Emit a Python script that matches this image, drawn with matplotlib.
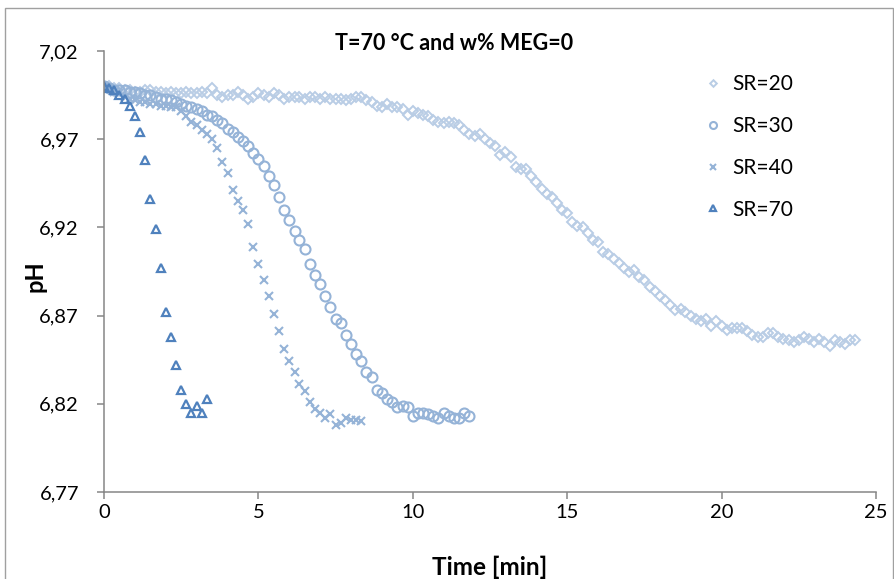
import matplotlib
matplotlib.use('agg')
from matplotlib import pyplot as plt
from matplotlib.patches import Rectangle

plt.rcParams['font.family'] = ['Lato', 'DejaVu Sans']

# sample times in minutes (10 s logging interval), shared by every series
time_min = [
    0, 0.17, 0.33, 0.5, 0.67, 0.83,
    1, 1.17, 1.33, 1.5, 1.67, 1.83,
    2, 2.17, 2.33, 2.5, 2.67, 2.83,
    3, 3.17, 3.33, 3.5, 3.67, 3.83,
    4, 4.17, 4.33, 4.5, 4.67, 4.83,
    5, 5.17, 5.33, 5.5, 5.67, 5.83,
    6, 6.17, 6.33, 6.5, 6.67, 6.83,
    7, 7.17, 7.33, 7.5, 7.67, 7.83,
    8, 8.17, 8.33, 8.5, 8.67, 8.83,
    9, 9.17, 9.33, 9.5, 9.67, 9.83,
    10, 10.17, 10.33, 10.5, 10.67, 10.83,
    11, 11.17, 11.33, 11.5, 11.67, 11.83,
    12, 12.17, 12.33, 12.5, 12.67, 12.83,
    13, 13.17, 13.33, 13.5, 13.67, 13.83,
    14, 14.17, 14.33, 14.5, 14.67, 14.83,
    15, 15.17, 15.33, 15.5, 15.67, 15.83,
    16, 16.17, 16.33, 16.5, 16.67, 16.83,
    17, 17.17, 17.33, 17.5, 17.67, 17.83,
    18, 18.17, 18.33, 18.5, 18.67, 18.83,
    19, 19.17, 19.33, 19.5, 19.67, 19.83,
    20, 20.17, 20.33, 20.5, 20.67, 20.83,
    21, 21.17, 21.33, 21.5, 21.67, 21.83,
    22, 22.17, 22.33, 22.5, 22.67, 22.83,
    23, 23.17, 23.33, 23.5, 23.67, 23.83,
    24, 24.17, 24.33,
]

ph_sr20 = [
    7.000, 7.000, 6.999, 6.999, 6.998, 6.998, 6.997, 6.997, 6.998, 6.998,
    6.997, 6.997, 6.996, 6.997, 6.996, 6.996, 6.997, 6.996, 6.996, 6.997,
    6.996, 6.999, 6.995, 6.994, 6.995, 6.995, 6.997, 6.995, 6.993, 6.994,
    6.996, 6.995, 6.994, 6.996, 6.995, 6.993, 6.994, 6.994, 6.994, 6.993,
    6.994, 6.994, 6.993, 6.994, 6.993, 6.993, 6.993, 6.992, 6.993, 6.994,
    6.994, 6.992, 6.991, 6.989, 6.988, 6.990, 6.988, 6.988, 6.987, 6.984,
    6.986, 6.985, 6.984, 6.983, 6.981, 6.980, 6.979, 6.980, 6.979, 6.978,
    6.975, 6.973, 6.972, 6.973, 6.970, 6.968, 6.966, 6.961, 6.963, 6.960,
    6.954, 6.953, 6.953, 6.949, 6.946, 6.942, 6.939, 6.937, 6.934, 6.930,
    6.928, 6.923, 6.921, 6.920, 6.917, 6.913, 6.912, 6.906, 6.905, 6.902,
    6.900, 6.897, 6.895, 6.896, 6.892, 6.890, 6.886, 6.884, 6.881, 6.879,
    6.876, 6.873, 6.874, 6.872, 6.870, 6.868, 6.867, 6.868, 6.864, 6.867,
    6.864, 6.862, 6.863, 6.863, 6.863, 6.861, 6.859, 6.858, 6.858, 6.860,
    6.860, 6.858, 6.857, 6.856, 6.855, 6.856, 6.858, 6.857, 6.855, 6.857,
    6.855, 6.853, 6.856, 6.855, 6.854, 6.856, 6.856,
]

ph_sr30 = [
    7.000, 6.999, 6.998, 6.998, 6.998, 6.997, 6.997, 6.996, 6.995, 6.995,
    6.994, 6.993, 6.993, 6.992, 6.991, 6.990, 6.989, 6.988, 6.987, 6.986,
    6.984, 6.983, 6.981, 6.979, 6.976, 6.974, 6.971, 6.969, 6.966, 6.962,
    6.959, 6.955, 6.949, 6.944, 6.937, 6.930, 6.924, 6.918, 6.913, 6.908,
    6.899, 6.893, 6.888, 6.881, 6.875, 6.868, 6.866, 6.859, 6.854, 6.848,
    6.844, 6.838, 6.835, 6.828, 6.826, 6.823, 6.821, 6.818, 6.819, 6.818,
    6.813, 6.815, 6.815, 6.814, 6.813, 6.812, 6.815, 6.813, 6.812, 6.812,
    6.815, 6.813,
]

ph_sr40 = [
    7.000, 6.999, 6.997, 6.996, 6.994, 6.993, 6.992, 6.991, 6.991, 6.990,
    6.990, 6.989, 6.989, 6.988, 6.988, 6.986, 6.983, 6.980, 6.978, 6.975,
    6.973, 6.970, 6.965, 6.957, 6.951, 6.941, 6.935, 6.930, 6.922, 6.909,
    6.899, 6.890, 6.881, 6.871, 6.861, 6.851, 6.844, 6.838, 6.831, 6.827,
    6.821, 6.817, 6.815, 6.812, 6.814, 6.808, 6.809, 6.812, 6.811, 6.811,
    6.810,
]

ph_sr70 = [
    7.000, 6.999, 6.998, 6.995, 6.993, 6.989, 6.983, 6.974, 6.958, 6.936,
    6.919, 6.897, 6.872, 6.858, 6.842, 6.828, 6.820, 6.815, 6.819, 6.815,
    6.823,
]

labels = ['SR=20', 'SR=30', 'SR=40', 'SR=70']
x_ticks = [0, 5, 10, 15, 20, 25]
y_ticks = [6.77, 6.82, 6.87, 6.92, 6.97, 7.02]
y_tick_labels = ['6,77', '6,82', '6,87', '6,92', '6,97', '7,02']

fig = plt.figure(figsize=(8.95, 5.79), dpi=100)
ax = fig.add_axes([104 / 895, 1 - 492 / 579, 772 / 895, 441 / 579])

series = [ph_sr20, ph_sr30, ph_sr40, ph_sr70]
styles = [
    dict(marker='D', ms=4.8, mfc='none', mec='#B9CDE5', mew=1.4),
    dict(marker='o', ms=7.2, mfc='none', mec='#95B3D7', mew=1.5),
    dict(marker='x', ms=5.5, mec='#95B3D7', mew=1.5),
    dict(marker='^', ms=5.5, mfc='none', mec='#4F81BD', mew=1.6),
]
for ph, lab, st in zip(series, labels, styles):
    ax.plot(time_min[:len(ph)], ph, ls='none', label=lab, **st)

ax.set_xlim(0, 25)
ax.set_ylim(6.77, 7.02)
ax.set_xticks(x_ticks)
ax.set_yticks(y_ticks)
ax.set_yticklabels(y_tick_labels)

for side in ('top', 'right'):
    ax.spines[side].set_visible(False)
for side in ('left', 'bottom'):
    ax.spines[side].set_color('#868686')
    ax.spines[side].set_linewidth(1.1)
ax.tick_params(axis='both', direction='out', length=5, width=1.1, color='#868686',
               labelsize=14.5, labelcolor='black')
ax.tick_params(axis='y', pad=13)

ax.set_xlabel('Time [min]', fontsize=17.5, fontweight='bold')
ax.xaxis.set_label_coords(0.5, -0.145)
ax.set_ylabel('pH', fontsize=17, fontweight='bold')
ax.yaxis.set_label_coords(-0.074, 0.49)

fig.text(454 / 895, 1 - 44 / 579, 'T=70 °C and w% MEG=0', ha='center', va='center',
         fontsize=15.5, fontweight='bold')

leg = ax.legend(loc='upper left', bbox_to_anchor=(582 / 772, 0.99), frameon=False,
                fontsize=15, markerscale=0.7, handlelength=0.8, handletextpad=0.5,
                labelspacing=1.05)

# chart area outline
fig.patches.append(Rectangle((5 / 895, -0.02), 888 / 895, 1 - 8 / 579 + 0.02,
                             transform=fig.transFigure, fill=False,
                             edgecolor='#A0A0A0', linewidth=1.0))

fig.savefig('out.png', dpi=100)
